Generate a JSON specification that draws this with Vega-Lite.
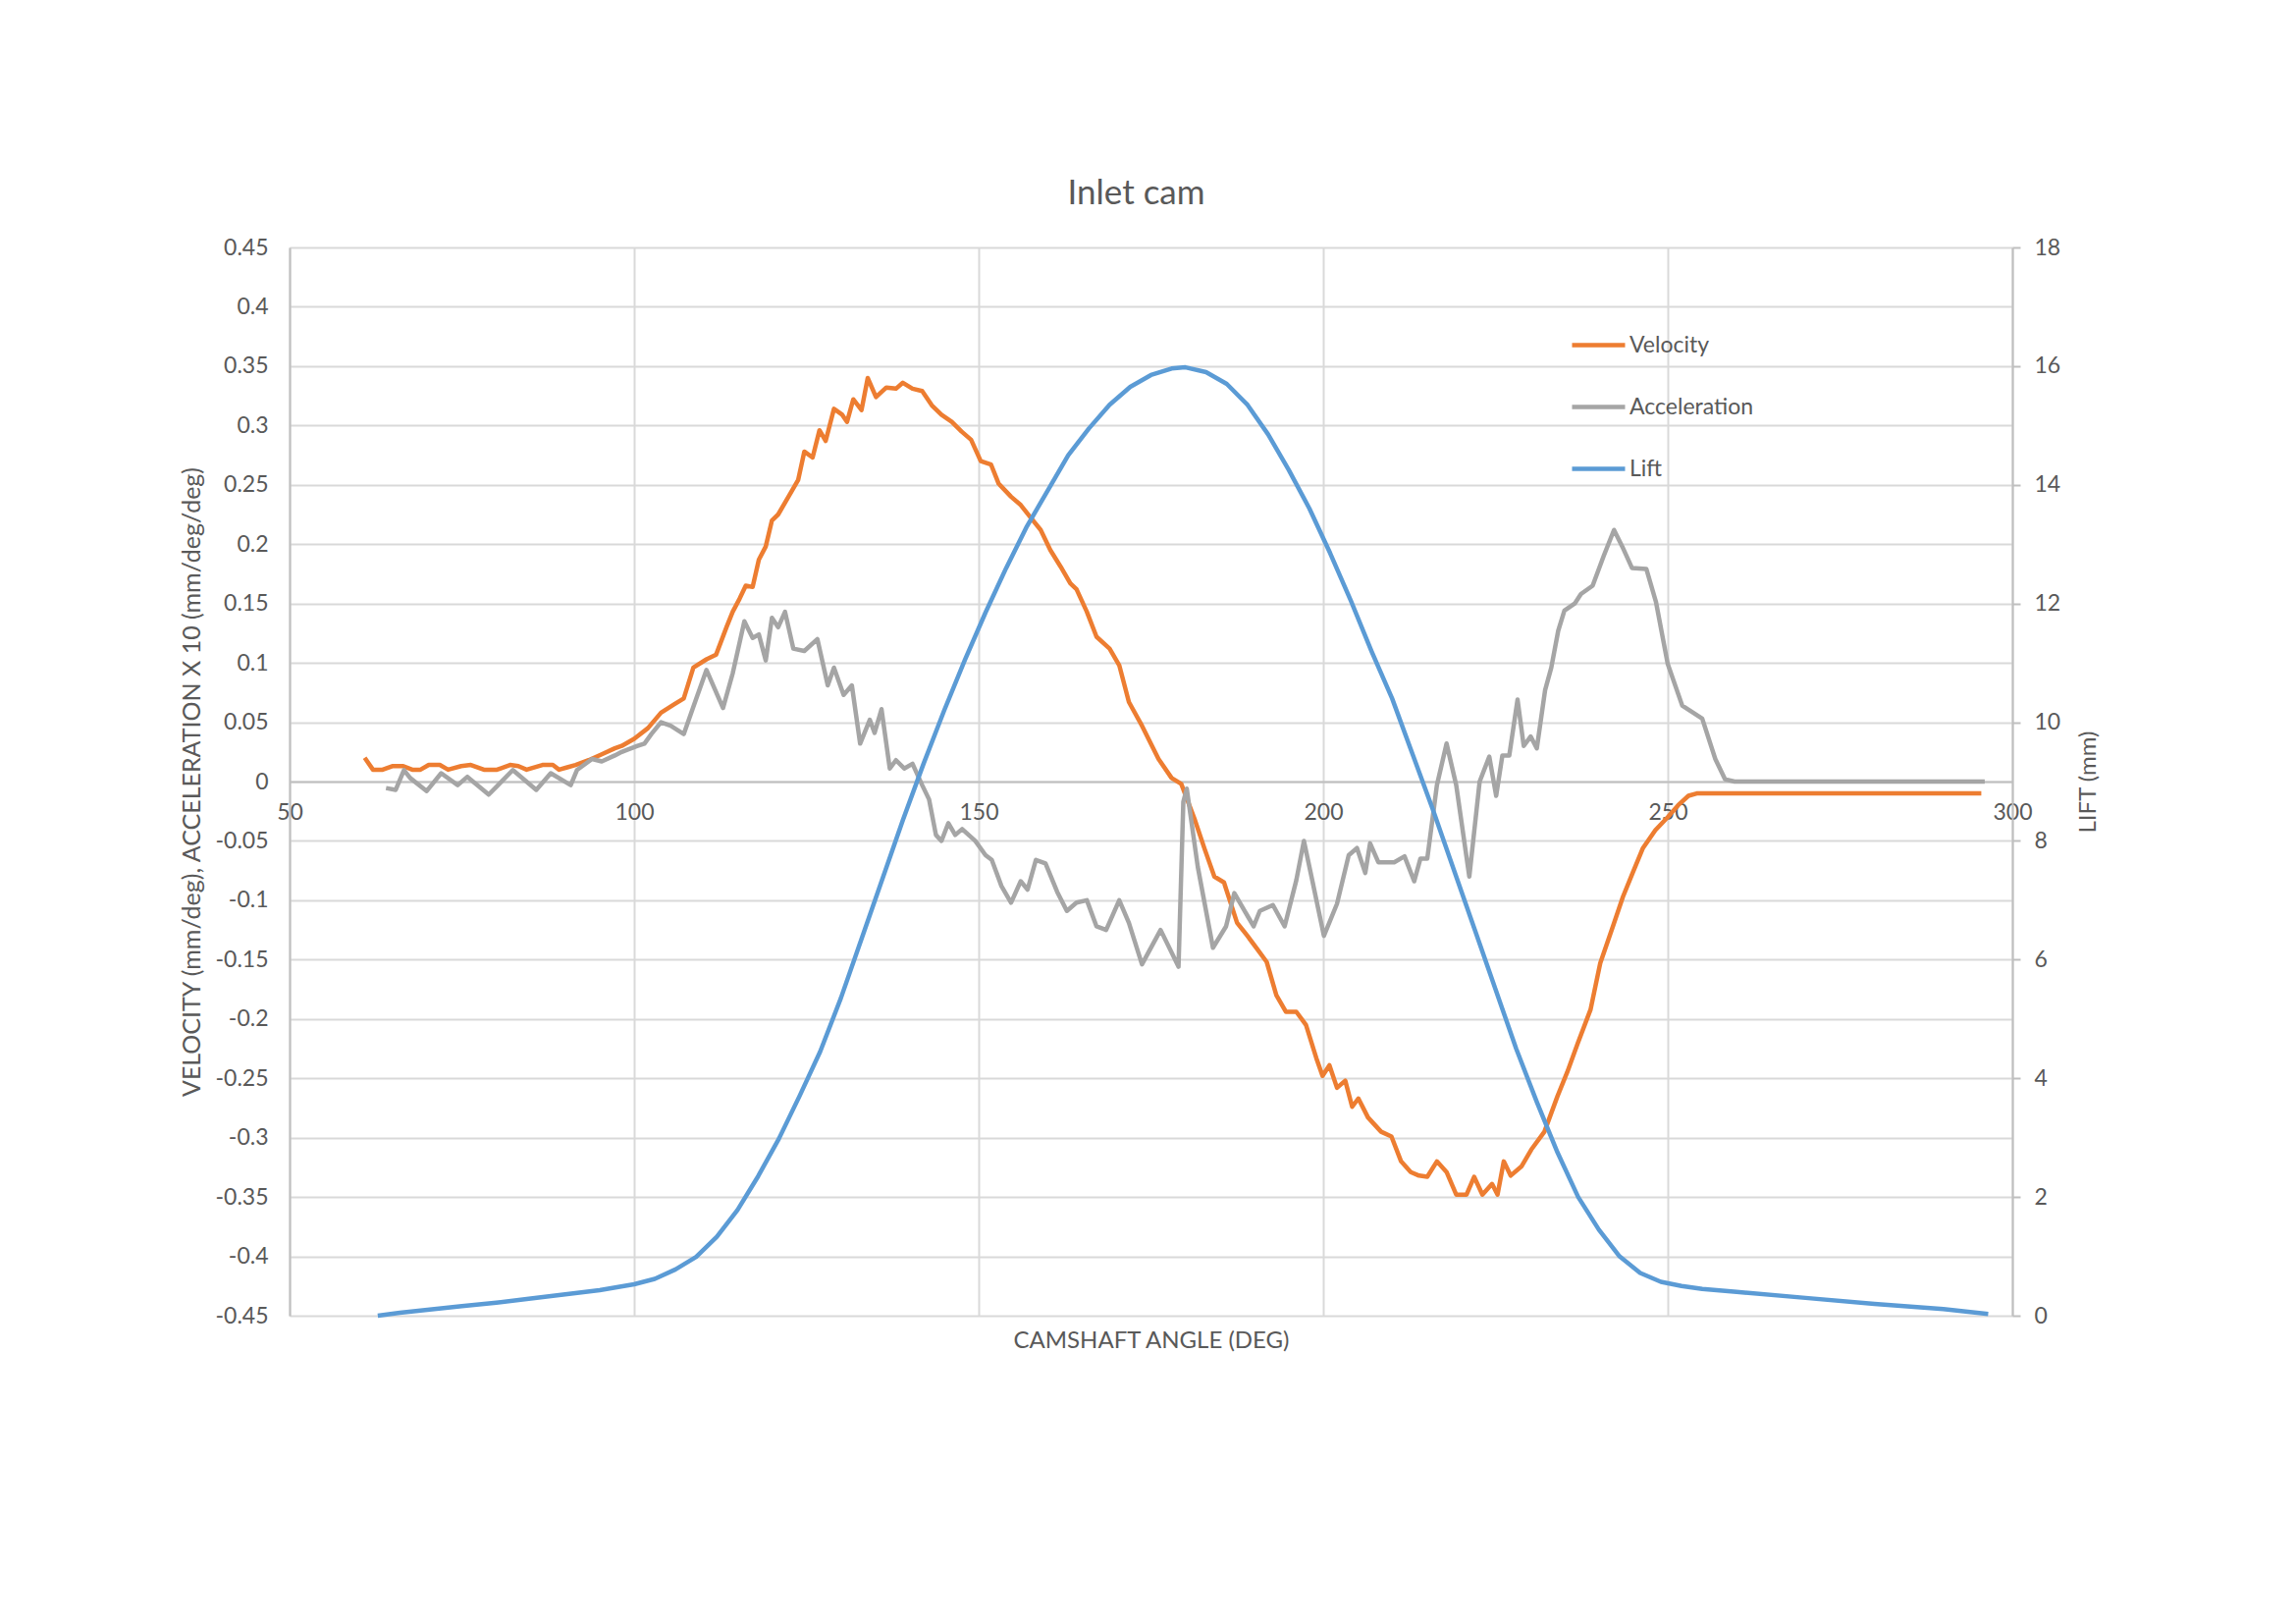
{
"$schema": "https://vega.github.io/schema/vega-lite/v6.json",
"width": 1755, "height": 1088,
"autosize": {"type": "none"},
"padding": {"left": 295, "top": 252, "right": 289, "bottom": 314},
"background": "white",
"title": {"text": "Inlet cam", "fontSize": 35, "font": "Lato", "fontWeight": "normal", "color": "#595959", "anchor": "middle", "frame": "group", "dx": -15, "offset": 26},
"config": {
  "font": "Lato",
  "view": {"stroke": null},
  "axis": {"labelFont": "Lato", "titleFont": "Lato", "labelFontSize": 23, "titleFontSize": 24, "labelColor": "#595959", "titleColor": "#595959", "titleFontWeight": "normal", "gridColor": "#D9D9D9", "gridWidth": 2, "domainColor": "#BFBFBF", "domainWidth": 2, "tickColor": "#BFBFBF", "tickWidth": 2}
},
"datasets": {
"va": [
{"series":"Velocity","angle":60.9,"value":0.020},{"series":"Velocity","angle":62.1,"value":0.010},{"series":"Velocity","angle":63.5,"value":0.010},{"series":"Velocity","angle":64.9,"value":0.013},{"series":"Velocity","angle":66.5,"value":0.013},{"series":"Velocity","angle":67.8,"value":0.010},{"series":"Velocity","angle":69,"value":0.010},{"series":"Velocity","angle":70.2,"value":0.014},{"series":"Velocity","angle":71.8,"value":0.014},{"series":"Velocity","angle":73,"value":0.010},{"series":"Velocity","angle":74.9,"value":0.013},{"series":"Velocity","angle":76.3,"value":0.014},{"series":"Velocity","angle":78.2,"value":0.010},{"series":"Velocity","angle":80.1,"value":0.010},{"series":"Velocity","angle":82,"value":0.014},{"series":"Velocity","angle":83.2,"value":0.013},{"series":"Velocity","angle":84.4,"value":0.010},{"series":"Velocity","angle":86.7,"value":0.014},{"series":"Velocity","angle":88.2,"value":0.014},{"series":"Velocity","angle":89.1,"value":0.010},{"series":"Velocity","angle":90.3,"value":0.012},{"series":"Velocity","angle":91.5,"value":0.014},{"series":"Velocity","angle":93.4,"value":0.018},{"series":"Velocity","angle":95.3,"value":0.023},{"series":"Velocity","angle":97.2,"value":0.028},{"series":"Velocity","angle":98.2,"value":0.030},{"series":"Velocity","angle":100,"value":0.036},{"series":"Velocity","angle":102,"value":0.045},{"series":"Velocity","angle":103.9,"value":0.058},{"series":"Velocity","angle":105.8,"value":0.065},{"series":"Velocity","angle":107.2,"value":0.070},{"series":"Velocity","angle":108.6,"value":0.096},{"series":"Velocity","angle":110.5,"value":0.103},{"series":"Velocity","angle":111.9,"value":0.107},{"series":"Velocity","angle":113.4,"value":0.130},{"series":"Velocity","angle":114.3,"value":0.143},{"series":"Velocity","angle":115.3,"value":0.154},{"series":"Velocity","angle":116.2,"value":0.165},{"series":"Velocity","angle":117.2,"value":0.164},{"series":"Velocity","angle":118.1,"value":0.187},{"series":"Velocity","angle":119.1,"value":0.198},{"series":"Velocity","angle":120,"value":0.220},{"series":"Velocity","angle":120.9,"value":0.225},{"series":"Velocity","angle":122.4,"value":0.240},{"series":"Velocity","angle":123.8,"value":0.254},{"series":"Velocity","angle":124.7,"value":0.278},{"series":"Velocity","angle":125.9,"value":0.273},{"series":"Velocity","angle":126.9,"value":0.296},{"series":"Velocity","angle":127.8,"value":0.287},{"series":"Velocity","angle":129,"value":0.314},{"series":"Velocity","angle":130.2,"value":0.309},{"series":"Velocity","angle":130.9,"value":0.303},{"series":"Velocity","angle":131.8,"value":0.322},{"series":"Velocity","angle":133,"value":0.313},{"series":"Velocity","angle":133.9,"value":0.340},{"series":"Velocity","angle":135.1,"value":0.324},{"series":"Velocity","angle":136.6,"value":0.332},{"series":"Velocity","angle":138,"value":0.331},{"series":"Velocity","angle":139,"value":0.336},{"series":"Velocity","angle":140.4,"value":0.331},{"series":"Velocity","angle":141.8,"value":0.329},{"series":"Velocity","angle":143.2,"value":0.317},{"series":"Velocity","angle":144.6,"value":0.309},{"series":"Velocity","angle":146.1,"value":0.303},{"series":"Velocity","angle":147.5,"value":0.295},{"series":"Velocity","angle":148.9,"value":0.288},{"series":"Velocity","angle":150.3,"value":0.270},{"series":"Velocity","angle":151.8,"value":0.267},{"series":"Velocity","angle":152.9,"value":0.251},{"series":"Velocity","angle":154.7,"value":0.240},{"series":"Velocity","angle":156.1,"value":0.233},{"series":"Velocity","angle":157.6,"value":0.222},{"series":"Velocity","angle":159,"value":0.212},{"series":"Velocity","angle":160.4,"value":0.195},{"series":"Velocity","angle":161.9,"value":0.181},{"series":"Velocity","angle":163.3,"value":0.167},{"series":"Velocity","angle":164.2,"value":0.162},{"series":"Velocity","angle":165.7,"value":0.143},{"series":"Velocity","angle":167.1,"value":0.122},{"series":"Velocity","angle":169,"value":0.112},{"series":"Velocity","angle":170.4,"value":0.098},{"series":"Velocity","angle":171.8,"value":0.067},{"series":"Velocity","angle":173.7,"value":0.047},{"series":"Velocity","angle":176.1,"value":0.019},{"series":"Velocity","angle":178,"value":0.003},{"series":"Velocity","angle":179.4,"value":-0.002},{"series":"Velocity","angle":181.3,"value":-0.031},{"series":"Velocity","angle":182.8,"value":-0.057},{"series":"Velocity","angle":184.2,"value":-0.080},{"series":"Velocity","angle":185.6,"value":-0.085},{"series":"Velocity","angle":187.5,"value":-0.119},{"series":"Velocity","angle":189,"value":-0.130},{"series":"Velocity","angle":190.4,"value":-0.141},{"series":"Velocity","angle":191.8,"value":-0.152},{"series":"Velocity","angle":193.2,"value":-0.180},{"series":"Velocity","angle":194.6,"value":-0.194},{"series":"Velocity","angle":196.1,"value":-0.194},{"series":"Velocity","angle":197.5,"value":-0.205},{"series":"Velocity","angle":199,"value":-0.233},{"series":"Velocity","angle":199.9,"value":-0.248},{"series":"Velocity","angle":200.9,"value":-0.239},{"series":"Velocity","angle":202,"value":-0.258},{"series":"Velocity","angle":203.2,"value":-0.252},{"series":"Velocity","angle":204.2,"value":-0.274},{"series":"Velocity","angle":205.1,"value":-0.267},{"series":"Velocity","angle":206.5,"value":-0.283},{"series":"Velocity","angle":208.4,"value":-0.295},{"series":"Velocity","angle":209.9,"value":-0.299},{"series":"Velocity","angle":211.3,"value":-0.320},{"series":"Velocity","angle":212.7,"value":-0.329},{"series":"Velocity","angle":213.9,"value":-0.332},{"series":"Velocity","angle":215.1,"value":-0.333},{"series":"Velocity","angle":216.5,"value":-0.320},{"series":"Velocity","angle":217.9,"value":-0.329},{"series":"Velocity","angle":219.3,"value":-0.348},{"series":"Velocity","angle":220.8,"value":-0.348},{"series":"Velocity","angle":221.9,"value":-0.333},{"series":"Velocity","angle":223.1,"value":-0.348},{"series":"Velocity","angle":224.5,"value":-0.339},{"series":"Velocity","angle":225.3,"value":-0.348},{"series":"Velocity","angle":226.2,"value":-0.320},{"series":"Velocity","angle":227.2,"value":-0.332},{"series":"Velocity","angle":228.8,"value":-0.324},{"series":"Velocity","angle":230.2,"value":-0.310},{"series":"Velocity","angle":232.1,"value":-0.295},{"series":"Velocity","angle":234,"value":-0.265},{"series":"Velocity","angle":235.4,"value":-0.245},{"series":"Velocity","angle":236.9,"value":-0.221},{"series":"Velocity","angle":238.8,"value":-0.192},{"series":"Velocity","angle":240.2,"value":-0.153},{"series":"Velocity","angle":242.1,"value":-0.121},{"series":"Velocity","angle":243.5,"value":-0.097},{"series":"Velocity","angle":244.9,"value":-0.077},{"series":"Velocity","angle":246.4,"value":-0.056},{"series":"Velocity","angle":248.2,"value":-0.041},{"series":"Velocity","angle":250,"value":-0.030},{"series":"Velocity","angle":251.5,"value":-0.020},{"series":"Velocity","angle":253,"value":-0.012},{"series":"Velocity","angle":254.2,"value":-0.010},{"series":"Velocity","angle":295.5,"value":-0.010},
{"series":"Acceleration","angle":64.0,"value":-0.0055},{"series":"Acceleration","angle":65.4,"value":-0.007},{"series":"Acceleration","angle":66.6,"value":0.0097},{"series":"Acceleration","angle":67.5,"value":0.003},{"series":"Acceleration","angle":69.9,"value":-0.008},{"series":"Acceleration","angle":72,"value":0.007},{"series":"Acceleration","angle":74.4,"value":-0.003},{"series":"Acceleration","angle":75.8,"value":0.004},{"series":"Acceleration","angle":78.9,"value":-0.011},{"series":"Acceleration","angle":82.4,"value":0.0097},{"series":"Acceleration","angle":85.8,"value":-0.007},{"series":"Acceleration","angle":87.9,"value":0.007},{"series":"Acceleration","angle":90.8,"value":-0.003},{"series":"Acceleration","angle":91.7,"value":0.0097},{"series":"Acceleration","angle":93.9,"value":0.019},{"series":"Acceleration","angle":95.3,"value":0.017},{"series":"Acceleration","angle":97.2,"value":0.022},{"series":"Acceleration","angle":98.2,"value":0.025},{"series":"Acceleration","angle":99.1,"value":0.027},{"series":"Acceleration","angle":100.5,"value":0.030},{"series":"Acceleration","angle":101.5,"value":0.032},{"series":"Acceleration","angle":102.5,"value":0.040},{"series":"Acceleration","angle":103.9,"value":0.050},{"series":"Acceleration","angle":105.3,"value":0.047},{"series":"Acceleration","angle":107.2,"value":0.040},{"series":"Acceleration","angle":108.6,"value":0.063},{"series":"Acceleration","angle":110.5,"value":0.094},{"series":"Acceleration","angle":112.9,"value":0.062},{"series":"Acceleration","angle":114.3,"value":0.091},{"series":"Acceleration","angle":116,"value":0.135},{"series":"Acceleration","angle":117.2,"value":0.121},{"series":"Acceleration","angle":118.1,"value":0.124},{"series":"Acceleration","angle":119.1,"value":0.102},{"series":"Acceleration","angle":120,"value":0.138},{"series":"Acceleration","angle":120.9,"value":0.130},{"series":"Acceleration","angle":121.9,"value":0.143},{"series":"Acceleration","angle":123.1,"value":0.112},{"series":"Acceleration","angle":124.7,"value":0.110},{"series":"Acceleration","angle":126.6,"value":0.120},{"series":"Acceleration","angle":128.1,"value":0.081},{"series":"Acceleration","angle":129,"value":0.096},{"series":"Acceleration","angle":130.4,"value":0.073},{"series":"Acceleration","angle":131.6,"value":0.081},{"series":"Acceleration","angle":132.8,"value":0.032},{"series":"Acceleration","angle":134.2,"value":0.052},{"series":"Acceleration","angle":134.9,"value":0.041},{"series":"Acceleration","angle":135.9,"value":0.061},{"series":"Acceleration","angle":137.1,"value":0.011},{"series":"Acceleration","angle":138,"value":0.018},{"series":"Acceleration","angle":139.2,"value":0.011},{"series":"Acceleration","angle":140.4,"value":0.015},{"series":"Acceleration","angle":141.8,"value":-0.003},{"series":"Acceleration","angle":142.8,"value":-0.015},{"series":"Acceleration","angle":143.8,"value":-0.045},{"series":"Acceleration","angle":144.6,"value":-0.050},{"series":"Acceleration","angle":145.6,"value":-0.035},{"series":"Acceleration","angle":146.6,"value":-0.045},{"series":"Acceleration","angle":147.6,"value":-0.040},{"series":"Acceleration","angle":149.5,"value":-0.050},{"series":"Acceleration","angle":151,"value":-0.062},{"series":"Acceleration","angle":151.9,"value":-0.066},{"series":"Acceleration","angle":153.3,"value":-0.088},{"series":"Acceleration","angle":154.7,"value":-0.102},{"series":"Acceleration","angle":156.1,"value":-0.084},{"series":"Acceleration","angle":157.1,"value":-0.091},{"series":"Acceleration","angle":158.3,"value":-0.066},{"series":"Acceleration","angle":159.7,"value":-0.069},{"series":"Acceleration","angle":161.4,"value":-0.093},{"series":"Acceleration","angle":162.8,"value":-0.109},{"series":"Acceleration","angle":164.2,"value":-0.102},{"series":"Acceleration","angle":165.7,"value":-0.100},{"series":"Acceleration","angle":167.1,"value":-0.122},{"series":"Acceleration","angle":168.5,"value":-0.125},{"series":"Acceleration","angle":170.4,"value":-0.100},{"series":"Acceleration","angle":171.8,"value":-0.119},{"series":"Acceleration","angle":173.7,"value":-0.154},{"series":"Acceleration","angle":176.4,"value":-0.125},{"series":"Acceleration","angle":179,"value":-0.156},{"series":"Acceleration","angle":179.7,"value":-0.017},{"series":"Acceleration","angle":180.2,"value":-0.006},{"series":"Acceleration","angle":181.8,"value":-0.072},{"series":"Acceleration","angle":184,"value":-0.140},{"series":"Acceleration","angle":185.9,"value":-0.122},{"series":"Acceleration","angle":187.1,"value":-0.094},{"series":"Acceleration","angle":188.5,"value":-0.108},{"series":"Acceleration","angle":189.9,"value":-0.122},{"series":"Acceleration","angle":190.8,"value":-0.109},{"series":"Acceleration","angle":192.7,"value":-0.104},{"series":"Acceleration","angle":194.4,"value":-0.122},{"series":"Acceleration","angle":196.1,"value":-0.083},{"series":"Acceleration","angle":197.2,"value":-0.050},{"series":"Acceleration","angle":198.4,"value":-0.083},{"series":"Acceleration","angle":200.1,"value":-0.130},{"series":"Acceleration","angle":202,"value":-0.103},{"series":"Acceleration","angle":203.7,"value":-0.062},{"series":"Acceleration","angle":204.9,"value":-0.056},{"series":"Acceleration","angle":206.1,"value":-0.077},{"series":"Acceleration","angle":206.8,"value":-0.052},{"series":"Acceleration","angle":208,"value":-0.068},{"series":"Acceleration","angle":210.3,"value":-0.068},{"series":"Acceleration","angle":211.8,"value":-0.063},{"series":"Acceleration","angle":213.2,"value":-0.084},{"series":"Acceleration","angle":214.1,"value":-0.065},{"series":"Acceleration","angle":215.1,"value":-0.065},{"series":"Acceleration","angle":216.5,"value":-0.003},{"series":"Acceleration","angle":217.9,"value":0.032},{"series":"Acceleration","angle":219.3,"value":-0.003},{"series":"Acceleration","angle":221.2,"value":-0.080},{"series":"Acceleration","angle":222.7,"value":0.000},{"series":"Acceleration","angle":224.1,"value":0.021},{"series":"Acceleration","angle":225.1,"value":-0.012},{"series":"Acceleration","angle":226,"value":0.022},{"series":"Acceleration","angle":227,"value":0.022},{"series":"Acceleration","angle":228.2,"value":0.069},{"series":"Acceleration","angle":229.1,"value":0.030},{"series":"Acceleration","angle":230.1,"value":0.038},{"series":"Acceleration","angle":231,"value":0.028},{"series":"Acceleration","angle":232.2,"value":0.077},{"series":"Acceleration","angle":233.1,"value":0.096},{"series":"Acceleration","angle":234.1,"value":0.127},{"series":"Acceleration","angle":235,"value":0.144},{"series":"Acceleration","angle":236.5,"value":0.150},{"series":"Acceleration","angle":237.4,"value":0.158},{"series":"Acceleration","angle":239.1,"value":0.165},{"series":"Acceleration","angle":240.7,"value":0.190},{"series":"Acceleration","angle":242.2,"value":0.212},{"series":"Acceleration","angle":243.4,"value":0.198},{"series":"Acceleration","angle":244.8,"value":0.180},{"series":"Acceleration","angle":246.9,"value":0.179},{"series":"Acceleration","angle":248.3,"value":0.151},{"series":"Acceleration","angle":250,"value":0.099},{"series":"Acceleration","angle":252.1,"value":0.064},{"series":"Acceleration","angle":255,"value":0.053},{"series":"Acceleration","angle":256.9,"value":0.019},{"series":"Acceleration","angle":258.3,"value":0.002},{"series":"Acceleration","angle":259.7,"value":0.000},{"series":"Acceleration","angle":296,"value":0.000}
],
"lift": [
{"series":"Lift","angle":62.8,"value":0.0},{"series":"Lift","angle":66,"value":0.05},{"series":"Lift","angle":70,"value":0.1},{"series":"Lift","angle":75,"value":0.16},{"series":"Lift","angle":80,"value":0.22},{"series":"Lift","angle":85,"value":0.29},{"series":"Lift","angle":90,"value":0.36},{"series":"Lift","angle":95,"value":0.43},{"series":"Lift","angle":100,"value":0.53},{"series":"Lift","angle":103,"value":0.62},{"series":"Lift","angle":106,"value":0.78},{"series":"Lift","angle":109,"value":0.99},{"series":"Lift","angle":112,"value":1.33},{"series":"Lift","angle":115,"value":1.78},{"series":"Lift","angle":118,"value":2.35},{"series":"Lift","angle":121,"value":2.98},{"series":"Lift","angle":124,"value":3.7},{"series":"Lift","angle":127,"value":4.45},{"series":"Lift","angle":130,"value":5.35},{"series":"Lift","angle":133,"value":6.35},{"series":"Lift","angle":136,"value":7.35},{"series":"Lift","angle":139,"value":8.35},{"series":"Lift","angle":142,"value":9.3},{"series":"Lift","angle":145,"value":10.2},{"series":"Lift","angle":148,"value":11.05},{"series":"Lift","angle":151,"value":11.85},{"series":"Lift","angle":154,"value":12.6},{"series":"Lift","angle":157,"value":13.3},{"series":"Lift","angle":160,"value":13.9},{"series":"Lift","angle":163,"value":14.5},{"series":"Lift","angle":166,"value":14.95},{"series":"Lift","angle":169,"value":15.35},{"series":"Lift","angle":172,"value":15.65},{"series":"Lift","angle":175,"value":15.85},{"series":"Lift","angle":178,"value":15.96},{"series":"Lift","angle":180,"value":15.98},{"series":"Lift","angle":183,"value":15.9},{"series":"Lift","angle":186,"value":15.7},{"series":"Lift","angle":189,"value":15.35},{"series":"Lift","angle":192,"value":14.85},{"series":"Lift","angle":195,"value":14.25},{"series":"Lift","angle":198,"value":13.6},{"series":"Lift","angle":201,"value":12.85},{"series":"Lift","angle":204,"value":12.05},{"series":"Lift","angle":207,"value":11.2},{"series":"Lift","angle":210,"value":10.4},{"series":"Lift","angle":213,"value":9.45},{"series":"Lift","angle":216,"value":8.5},{"series":"Lift","angle":219,"value":7.5},{"series":"Lift","angle":222,"value":6.5},{"series":"Lift","angle":225,"value":5.5},{"series":"Lift","angle":228,"value":4.5},{"series":"Lift","angle":231,"value":3.6},{"series":"Lift","angle":234,"value":2.75},{"series":"Lift","angle":237,"value":2.0},{"series":"Lift","angle":240,"value":1.45},{"series":"Lift","angle":243,"value":1.0},{"series":"Lift","angle":246,"value":0.72},{"series":"Lift","angle":249,"value":0.57},{"series":"Lift","angle":252,"value":0.5},{"series":"Lift","angle":255,"value":0.45},{"series":"Lift","angle":260,"value":0.4},{"series":"Lift","angle":270,"value":0.3},{"series":"Lift","angle":280,"value":0.2},{"series":"Lift","angle":290,"value":0.11},{"series":"Lift","angle":296.5,"value":0.03}
]
},
"encoding": {
  "x": {"field": "angle", "type": "quantitative", "scale": {"domain": [50, 300], "nice": false, "zero": false},
        "axis": {"values": [50, 100, 150, 200, 250, 300], "offset": -544, "title": "CAMSHAFT ANGLE (DEG)", "grid": true, "ticks": false, "labelPadding": 20, "titleY": 569, "titleBaseline": "middle", "labelFlush": false, "domainWidth": 2}},
  "color": {"field": "series", "type": "nominal",
            "scale": {"domain": ["Velocity", "Acceleration", "Lift"], "range": ["#ED7D31", "#A5A5A5", "#5B9BD5"]},
            "legend": {"orient": "none", "legendX": 1304, "legendY": 70, "title": null, "symbolType": "stroke", "symbolSize": 2916, "symbolStrokeWidth": 4.5, "labelFontSize": 23, "labelColor": "#595959", "labelFont": "Lato", "labelOffset": 2, "rowPadding": 21, "padding": 0}}
},
"layer": [
  {"data": {"name": "va"},
   "mark": {"type": "line", "strokeWidth": 4.5, "strokeJoin": "round"},
   "encoding": {
     "y": {"field": "value", "type": "quantitative", "scale": {"domain": [-0.45, 0.45], "nice": false, "zero": false},
           "axis": {"orient": "left", "values": [-0.45,-0.4,-0.35,-0.3,-0.25,-0.2,-0.15,-0.1,-0.05,0,0.05,0.1,0.15,0.2,0.25,0.3,0.35,0.4,0.45], "labelExpr": "toString(datum.value)", "title": "VELOCITY (mm/deg), ACCELERATION X 10 (mm/deg/deg)", "titleFontSize": 25, "ticks": false, "labelPadding": 22, "grid": true, "titleX": -100, "titleY": 544, "titleBaseline": "middle", "titleAngle": 270}}
   }},
  {"data": {"name": "lift"},
   "mark": {"type": "line", "strokeWidth": 4.5, "strokeJoin": "round"},
   "encoding": {
     "y": {"field": "value", "type": "quantitative", "scale": {"domain": [0, 18], "nice": false},
           "axis": {"orient": "right", "values": [0,2,4,6,8,10,12,14,16,18], "title": "LIFT (mm)", "grid": false, "ticks": true, "tickSize": 8, "labelPadding": 14, "titleX": 77, "titleY": 544, "titleBaseline": "middle", "titleAngle": 270}}
   }}
],
"resolve": {"scale": {"y": "independent"}}
}
